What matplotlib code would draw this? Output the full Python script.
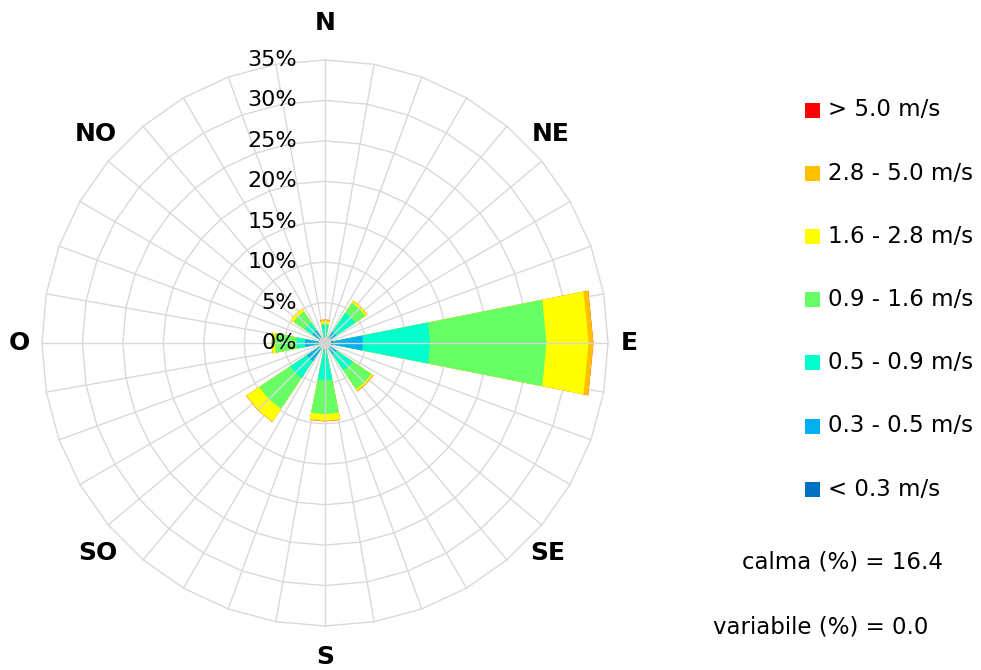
import numpy as np
import matplotlib
matplotlib.use("Agg")
import matplotlib.pyplot as plt
from matplotlib.patches import Polygon, Circle, Rectangle

# ---------------- data ----------------
directions = ["N", "NE", "E", "SE", "S", "SO", "O", "NO"]
dir_angles = [0, 45, 90, 135, 180, 225, 270, 315]  # compass degrees

speed_classes = ["< 0.3 m/s", "0.3 - 0.5 m/s", "0.5 - 0.9 m/s", "0.9 - 1.6 m/s",
                 "1.6 - 2.8 m/s", "2.8 - 5.0 m/s", "> 5.0 m/s"]
class_colors = ["#0070C0", "#00B0F0", "#00FFCC", "#66FF66",
                "#FFFF00", "#FFC000", "#FF0000"]

# frequency (%) per speed class, one value per direction (N, NE, E, SE, S, SO, O, NO)
f_lt03   = [0.5, 0.5, 1.0, 0.5, 0.3, 0.6, 0.6, 0.5]
f_03_05  = [0.3, 1.2, 3.7, 1.2, 0.5, 2.1, 1.9, 1.4]
f_05_09  = [1.4, 2.8, 8.3, 2.4, 3.8, 2.5, 1.0, 1.1]
f_09_16  = [0.2, 1.5, 14.4, 2.8, 4.2, 4.6, 2.7, 1.7]
f_16_28  = [0.3, 0.25, 5.2, 0.2, 0.8, 1.9, 0.4, 0.4]
f_28_50  = [0.2, 0.05, 0.6, 0.1, 0.1, 0.05, 0.0, 0.0]
f_gt50   = [0.0, 0.0, 0.0, 0.0, 0.0, 0.0, 0.0, 0.0]
freqs = [f_lt03, f_03_05, f_05_09, f_09_16, f_16_28, f_28_50, f_gt50]

r_ticks = [0, 5, 10, 15, 20, 25, 30, 35]
r_tick_labels = ["0%", "5%", "10%", "15%", "20%", "25%", "30%", "35%"]
calma = 16.4
variabile = 0.0

# ---------------- layout ----------------
W, H = 981, 670
CX, CY = 325, 343          # pixel centre of the rose
S = 283 / 35.0             # pixels per percent

fig = plt.figure(figsize=(W / 100, H / 100), dpi=100)
ax = fig.add_axes([0, 0, 1, 1])
ax.set_xlim(-CX / S, (W - CX) / S)
ax.set_ylim(-(H - CY) / S, CY / S)
ax.axis("off")

def pol(r, deg):
    t = np.deg2rad(deg)
    return r * np.sin(t), r * np.cos(t)

def px(x, y):
    return (x - CX) / S, (CY - y) / S

grid_col = "#D9D9D9"
font = "DejaVu Sans"

# grid: 36-sided polygon rings and spokes
ang = np.arange(0, 361, 10)
for r in r_ticks[1:]:
    xs, ys = pol(r, ang)
    ax.plot(xs, ys, color=grid_col, lw=1.0, zorder=1)
for a in ang[:-1]:
    x1, y1 = pol(r_ticks[-1], a)
    ax.plot([0, x1], [0, y1], color=grid_col, lw=1.0, zorder=1)

# stacked bars (wedges with straight outer edges)
half = 11.25
cum = np.cumsum(np.array(freqs), axis=0)
for k in range(len(speed_classes) - 1, -1, -1):
    for j, a in enumerate(dir_angles):
        r = cum[k, j]
        if r <= 0:
            continue
        pts = [(0, 0), pol(r, a - half), pol(r, a), pol(r, a + half)]
        ax.add_patch(Polygon(pts, closed=True, facecolor=class_colors[k],
                             edgecolor="none", zorder=2))
# light seam along each bar centre
for j, a in enumerate(dir_angles):
    x1, y1 = pol(cum[-1, j], a)
    ax.plot([0, x1], [0, y1], color="#D6D6D6", lw=1.0, zorder=3)

ax.add_patch(Circle((0, 0), 0.75, facecolor="#D3D3D3", edgecolor="none", zorder=4))

# radial tick labels
tx, _ = px(297, 0)
for r, lab in zip(r_ticks, r_tick_labels):
    ax.text(tx, r, lab, ha="right", va="center", fontsize=16,
            family=font, color="#000000", zorder=5)

# direction labels
dir_label_px = [(325, 23), (551, 134), (629, 343), (548, 553),
                (325, 657), (98, 553), (19, 343), (96, 134)]
for name, (x, y) in zip(directions, dir_label_px):
    dx, dy = px(x, y)
    ax.text(dx, dy, name, ha="center", va="center", fontsize=18,
            fontweight="bold", family=font, color="#000000", zorder=5)

# legend (top: > 5.0 m/s)
row_y = [110, 173, 236.5, 299, 362.5, 426, 489]
for i, k in enumerate(range(len(speed_classes) - 1, -1, -1)):
    y = row_y[i]
    fig.patches.append(Rectangle(((804.5) / W, 1 - (y + 7.5) / H), 15 / W, 15 / H,
                                 transform=fig.transFigure, facecolor=class_colors[k],
                                 edgecolor="none"))
    fig.text(828 / W, 1 - y / H, speed_classes[k], ha="left", va="center",
             fontsize=16.5, family=font, color="#000000")

fig.text(742 / W, 1 - 562 / H, f"calma (%) = {calma:.1f}", ha="left", va="center",
         fontsize=16.5, family=font, color="#000000")
fig.text(713 / W, 1 - 627 / H, f"variabile (%) = {variabile:.1f}", ha="left", va="center",
         fontsize=16.5, family=font, color="#000000")

fig.savefig("out.png", dpi=100, facecolor="white")
